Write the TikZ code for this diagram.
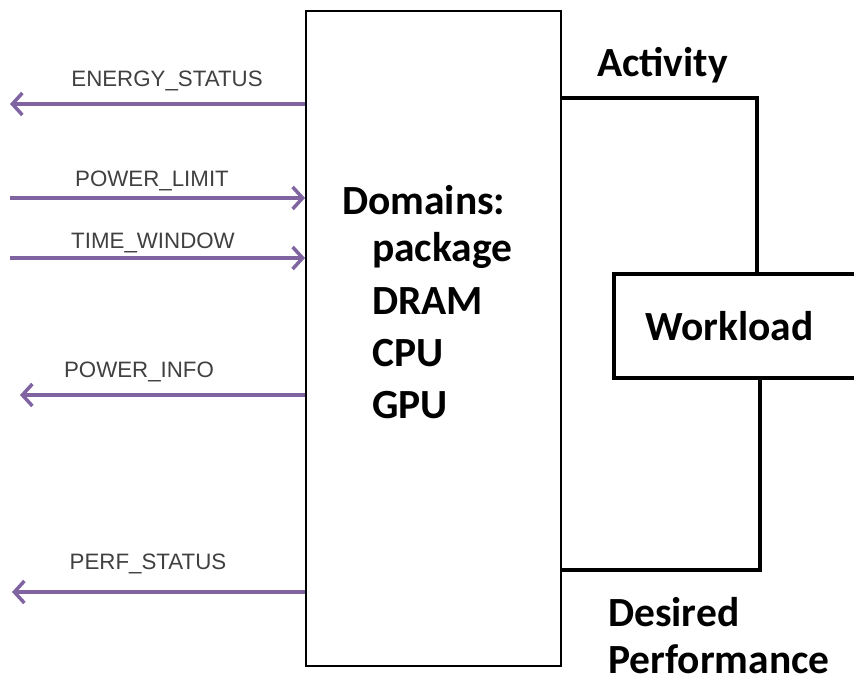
\documentclass[tikz,border=0pt]{standalone}
\usepackage{fontspec}
\setmainfont{Carlito}
\newfontfamily\arialf{Liberation Sans}
\usetikzlibrary{arrows.meta}
\definecolor{pur}{HTML}{8064A2}
\definecolor{lbl}{HTML}{404040}
\tikzset{
  parrow/.style={draw=pur, line width=3.5pt, -{Straight Barb[length=10pt,width=22pt,line width=3.5pt]}},
  sig/.style={font=\arialf\fontsize{22.3}{25}\selectfont, text=lbl, inner sep=0pt},
  big/.style={font=\bfseries\fontsize{41.5}{46}\selectfont, inner sep=0pt, anchor=west},
  heavy/.style={line width=4pt},
}
\begin{document}
\begin{tikzpicture}[x=1pt,y=-1pt]
\useasboundingbox (0,0) rectangle (854,682);
% main box
\node[draw, line width=1.8pt, minimum width=255pt, minimum height=655pt, anchor=north west, inner sep=0pt] (main) at (305,10) {};
% domains text
\node[big] (dom) at (342,200) {Domains:};
\node[big] (pkg) at (372,250) {package};
\node[big] (dram) at (372,301) {DRAM};
\node[big] (cpu) at (372,353) {CPU};
\node[big] (gpu) at (372,405) {GPU};
% workload box
\node[draw, heavy, minimum width=248pt, minimum height=104pt, anchor=north west, inner sep=0pt] (wl) at (612,272) {};
\node[big] (wlt) at (645,326) {Workload};
% right labels
\node[big] (act) at (597,65) {Activity};
\node[big] (des) at (608,612) {Desired};
\node[big] (perf) at (608,659) {Performance};
% connectors on right
\coordinate (c1) at (757,98);
\coordinate (c2) at (760,570);
\draw[heavy] (main.east |- c1) -- (c1) -- (c1 |- wl.north);
\draw[heavy] (c2 |- wl.south) -- (c2) -- (main.east |- c2);
% left signals
\coordinate (e1) at (10,104);
\coordinate (e2) at (10,198);
\coordinate (e3) at (10,258);
\coordinate (e4) at (20,395);
\coordinate (e5) at (12,592);
\draw[parrow] (main.west |- e1) -- (e1);
\draw[parrow] (e2) -- (main.west |- e2);
\draw[parrow] (e3) -- (main.west |- e3);
\draw[parrow] (main.west |- e4) -- (e4);
\draw[parrow] (main.west |- e5) -- (e5);
\node[sig] (l1) at (167,81) {ENERGY\_STATUS};
\node[sig] (l2) at (152,181) {POWER\_LIMIT};
\node[sig] (l3) at (153,243) {TIME\_WINDOW};
\node[sig] (l4) at (139,372) {POWER\_INFO};
\node[sig] (l5) at (148,564) {PERF\_STATUS};
\end{tikzpicture}
\end{document}
